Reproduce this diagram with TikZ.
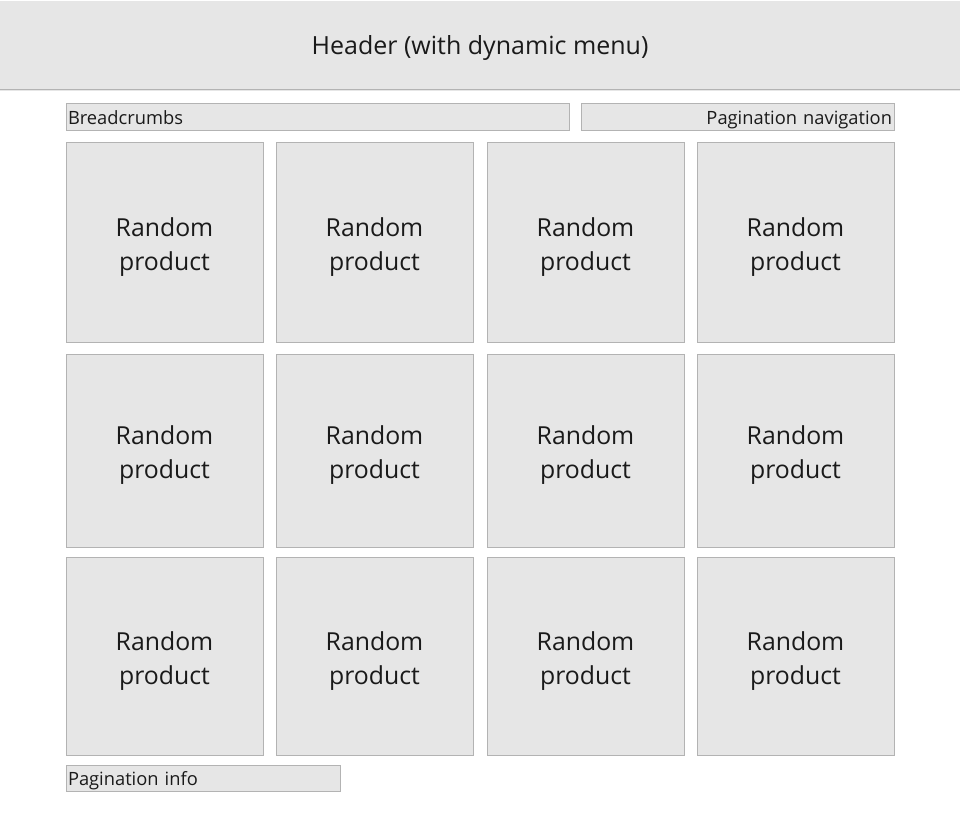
\documentclass[tikz,border=0pt]{standalone}
\usepackage{fontspec}
\setmainfont{Open Sans}
\usetikzlibrary{positioning}
\definecolor{boxfill}{HTML}{E6E6E6}
\definecolor{boxline}{HTML}{B3B3B3}
\definecolor{boxtext}{HTML}{1A1A1A}
\newcommand{\randomprod}{\rule{0pt}{28pt}Random\\product}
\begin{document}
\begin{tikzpicture}[x=1pt,y=-1pt,
                    box/.style={fill=boxfill,draw=boxline,line width=1pt,
                                text=boxtext,inner sep=0pt},
                    product/.style={box,minimum width=197pt,align=center,
                                    font=\fontsize{24.8}{34}\selectfont},
                    bar/.style={box,minimum height=27pt,inner xsep=2pt,
                                text height=16pt,text depth=1pt,
                                font=\fontsize{18.3}{20}\selectfont}
                   ]
   \useasboundingbox (0,0) rectangle (960,813);
   % header
   \node[fill=boxfill,minimum width=960pt,minimum height=90pt,inner sep=0pt,
         text height=20pt,text depth=2pt,
         text=boxtext,font=\fontsize{25}{28}\selectfont] (header) at (480,46)
        {Header (with dynamic menu)};
   \draw[boxline,line width=1pt] (0,90) -- (960,90);
   % bars
   \node[bar,text width=499pt,align=left] (crumbs) at (317.5,117.5) {Breadcrumbs};
   \node[bar,text width=309pt,align=right] (pagenav) at (737.5,117.5) {Pagination navigation};
   \node[bar,text width=270pt,align=left,minimum height=26pt] (pageinfo) at (203,778) {Pagination info};
   % products, first row
   \node[product,minimum height=199pt] (p11) at (164.5,242.5) {\randomprod};
   \node[product,minimum height=199pt] (p12) at (374.5,242.5) {\randomprod};
   \node[product,minimum height=199pt] (p13) at (585.5,242.5) {\randomprod};
   \node[product,minimum height=199pt] (p14) at (795.5,242.5) {\randomprod};
   % second row
   \node[product,minimum height=193pt] (p21) at (164.5,450.5) {\randomprod};
   \node[product,minimum height=193pt] (p22) at (374.5,450.5) {\randomprod};
   \node[product,minimum height=193pt] (p23) at (585.5,450.5) {\randomprod};
   \node[product,minimum height=193pt] (p24) at (795.5,450.5) {\randomprod};
   % third row
   \node[product,minimum height=198pt] (p31) at (164.5,656.5) {\randomprod};
   \node[product,minimum height=198pt] (p32) at (374.5,656.5) {\randomprod};
   \node[product,minimum height=198pt] (p33) at (585.5,656.5) {\randomprod};
   \node[product,minimum height=198pt] (p34) at (795.5,656.5) {\randomprod};
\end{tikzpicture}
\end{document}
